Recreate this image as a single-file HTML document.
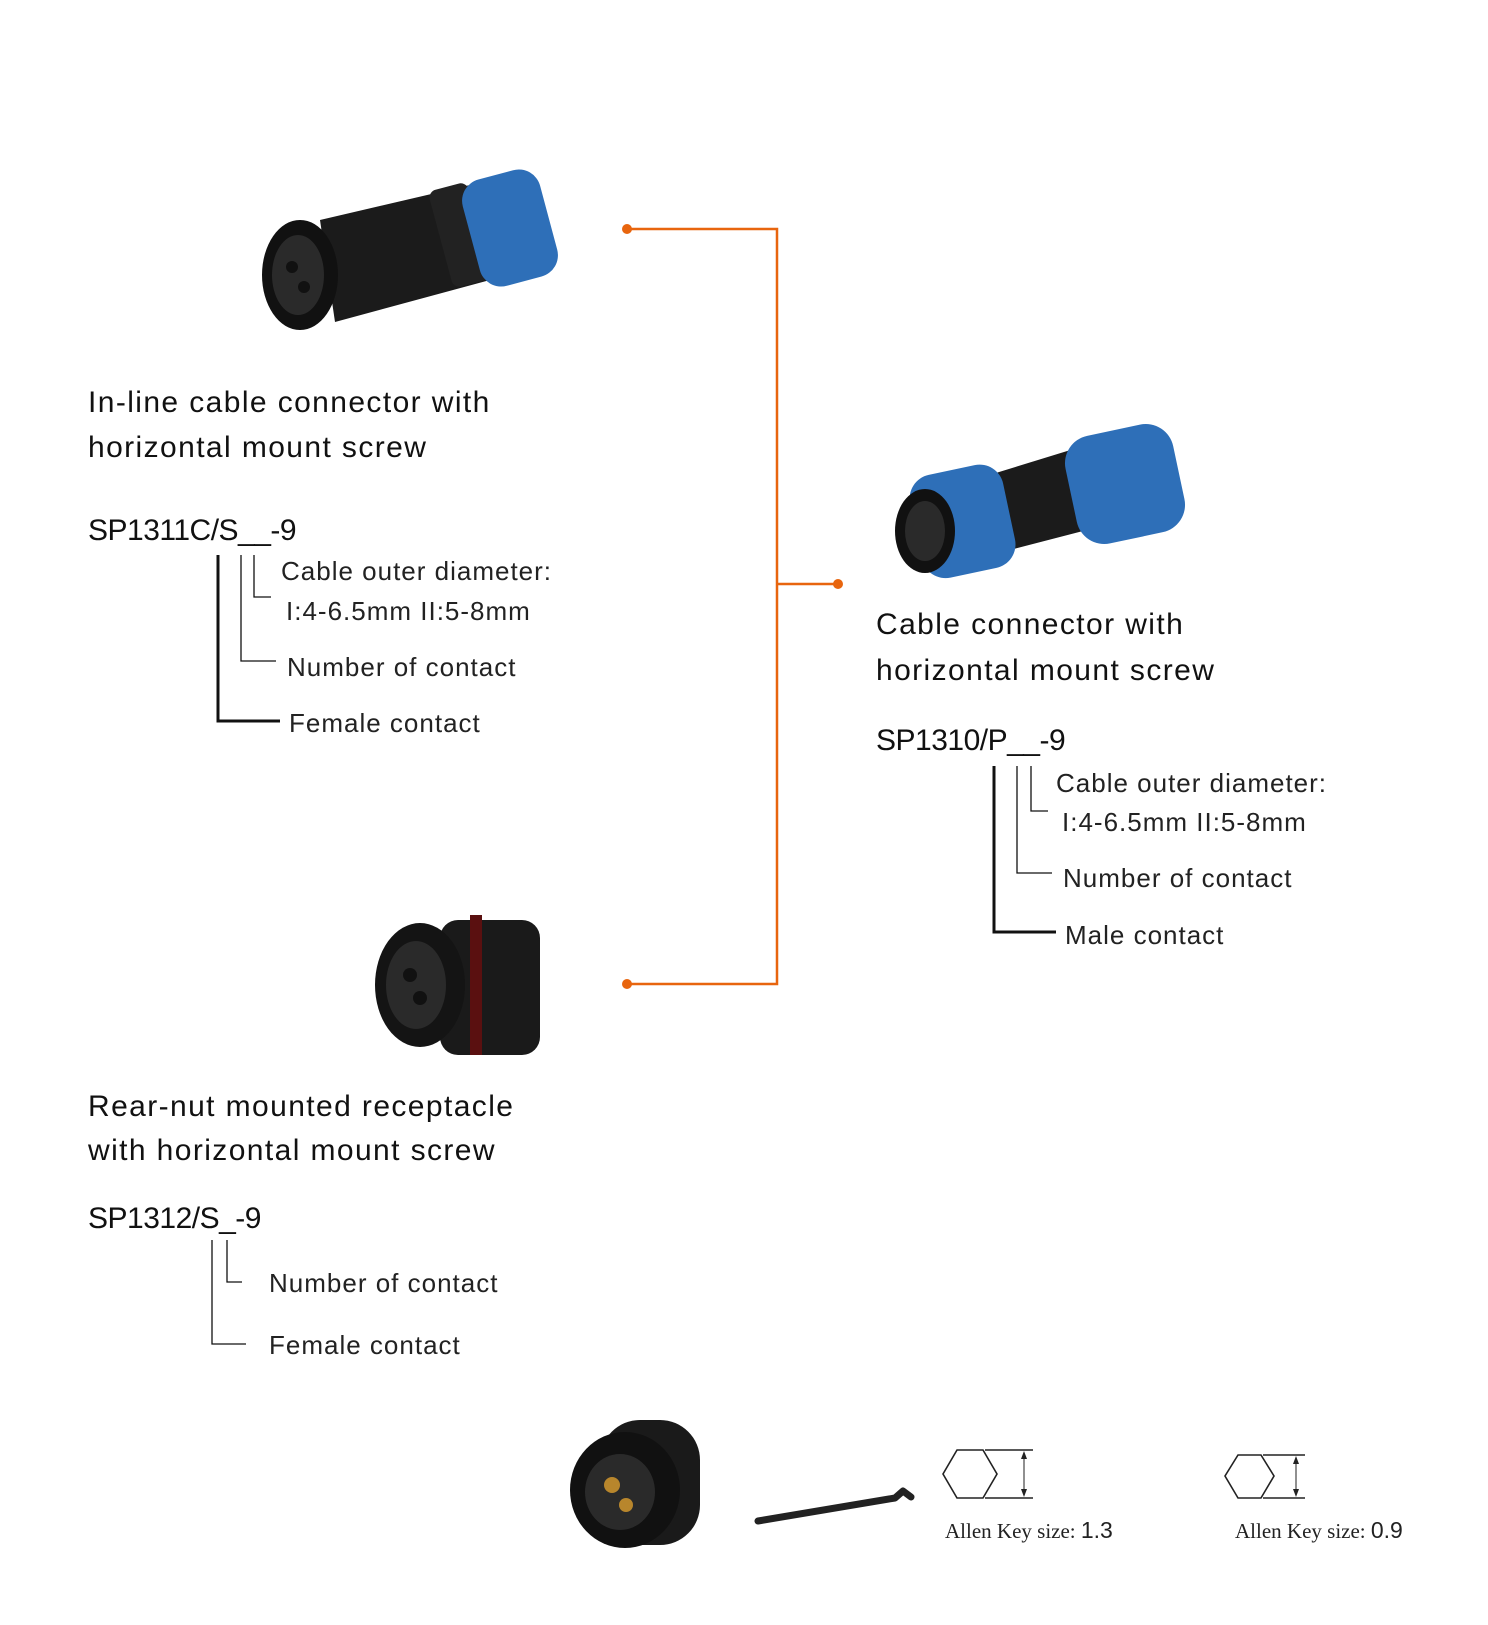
<!DOCTYPE html>
<html><head><meta charset="utf-8"><style>
html,body{margin:0;padding:0;background:#fff}
svg{display:block}
.h{font-family:"Liberation Sans",sans-serif;font-size:30px;fill:#111;letter-spacing:1.4px}
.p{font-family:"Liberation Sans",sans-serif;font-size:30px;fill:#111;letter-spacing:-0.5px}
.l{font-family:"Liberation Sans",sans-serif;font-size:26px;fill:#222;letter-spacing:1px}
.s{font-family:"Liberation Serif",serif;font-size:21px;fill:#222}
</style></head><body>
<svg width="1488" height="1625" viewBox="0 0 1488 1625" xmlns="http://www.w3.org/2000/svg">
<g stroke="#e8650e" stroke-width="2.5" fill="none">
<polyline points="627,229 777,229 777,984 627,984"/>
<line x1="777" y1="584" x2="838" y2="584"/>
</g>
<g fill="#e8650e"><circle cx="627" cy="229" r="5"/><circle cx="627" cy="984" r="5"/><circle cx="838" cy="584" r="5"/></g>

<g>
<polygon points="320,220 470,185 490,280 335,322" fill="#1b1b1b"/>
<rect x="440" y="185" width="40" height="100" rx="8" fill="#222" transform="rotate(-15 460 235)"/>
<rect x="470" y="173" width="80" height="110" rx="22" fill="#2e6fb8" transform="rotate(-15 510 228)"/>
<ellipse cx="300" cy="275" rx="38" ry="55" fill="#111"/>
<ellipse cx="298" cy="275" rx="26" ry="40" fill="#2a2a2a"/>
<circle cx="292" cy="267" r="6" fill="#111"/><circle cx="304" cy="287" r="6" fill="#111"/>
</g>

<g>
<polygon points="960,484 1090,444 1110,524 975,559" fill="#1b1b1b"/>
<rect x="1070" y="429" width="110" height="110" rx="28" fill="#2e6fb8" transform="rotate(-12 1125 484)"/>
<rect x="915" y="469" width="95" height="105" rx="24" fill="#2e6fb8" transform="rotate(-12 962 521)"/>
<ellipse cx="925" cy="531" rx="30" ry="42" fill="#111"/>
<ellipse cx="925" cy="531" rx="20" ry="30" fill="#2a2a2a"/>
</g>

<g>
<rect x="440" y="920" width="100" height="135" rx="18" fill="#1a1a1a"/>
<rect x="470" y="915" width="12" height="140" fill="#5a1010"/>
<ellipse cx="420" cy="985" rx="45" ry="62" fill="#141414"/>
<ellipse cx="416" cy="985" rx="30" ry="44" fill="#2a2a2a"/>
<circle cx="410" cy="975" r="7" fill="#111"/><circle cx="420" cy="998" r="7" fill="#111"/>
</g>

<g>
<rect x="600" y="1420" width="100" height="125" rx="40" fill="#1a1a1a"/>
<ellipse cx="625" cy="1490" rx="55" ry="58" fill="#111"/>
<ellipse cx="620" cy="1492" rx="35" ry="38" fill="#2a2a2a"/>
<circle cx="612" cy="1485" r="8" fill="#b8862c"/><circle cx="626" cy="1505" r="7" fill="#b8862c"/>
</g>
<path d="M758,1521 L895,1498 L903,1491 L911,1497" stroke="#222" stroke-width="7" fill="none" stroke-linecap="round" stroke-linejoin="round"/>

<g stroke="#222" stroke-width="1.6" fill="none">
<polygon points="957,1450 983,1450 997,1474 983,1498 957,1498 943,1474"/>
<line x1="985" y1="1450" x2="1033" y2="1450"/><line x1="985" y1="1498" x2="1033" y2="1498"/>
<line x1="1024" y1="1453" x2="1024" y2="1495" stroke-width="1"/>
<polygon points="1238,1455 1261,1455 1274,1476 1261,1498 1238,1498 1225,1476"/>
<line x1="1263" y1="1455" x2="1305" y2="1455"/><line x1="1263" y1="1498" x2="1305" y2="1498"/>
<line x1="1296" y1="1458" x2="1296" y2="1495" stroke-width="1"/>
</g>
<g fill="#222"><polygon points="1024,1451 1021,1459 1027,1459"/><polygon points="1024,1497 1021,1489 1027,1489"/>
<polygon points="1296,1456 1293,1464 1299,1464"/><polygon points="1296,1497 1293,1489 1299,1489"/></g>
<text class="s" x="945" y="1538">Allen Key size: <tspan font-family="Liberation Sans" font-size="23">1.3</tspan></text>
<text class="s" x="1235" y="1538">Allen Key size: <tspan font-family="Liberation Sans" font-size="23">0.9</tspan></text>

<text class="h" x="88" y="412">In-line cable connector with</text>
<text class="h" x="88" y="457">horizontal mount screw</text>
<text class="p" x="88" y="540">SP1311C/S__-9</text>
<g fill="none" stroke="#111">
<polyline points="218,555 218,721 280,721" stroke-width="3"/>
<polyline points="241,555 241,661 276,661" stroke-width="1.3"/>
<polyline points="254,555 254,597 271,597" stroke-width="1.3"/>
</g>
<text class="l" x="281" y="580">Cable outer diameter:</text>
<text class="l" x="286" y="620">I:4-6.5mm II:5-8mm</text>
<text class="l" x="287" y="676">Number of contact</text>
<text class="l" x="289" y="732">Female contact</text>

<text class="h" x="876" y="634">Cable connector with</text>
<text class="h" x="876" y="680">horizontal mount screw</text>
<text class="p" x="876" y="750">SP1310/P__-9</text>
<g fill="none" stroke="#111">
<polyline points="994,766 994,932 1056,932" stroke-width="3"/>
<polyline points="1017,766 1017,873 1052,873" stroke-width="1.3"/>
<polyline points="1031,766 1031,811 1048,811" stroke-width="1.3"/>
</g>
<text class="l" x="1056" y="792">Cable outer diameter:</text>
<text class="l" x="1062" y="831">I:4-6.5mm II:5-8mm</text>
<text class="l" x="1063" y="887">Number of contact</text>
<text class="l" x="1065" y="944">Male contact</text>

<text class="h" x="88" y="1116">Rear-nut mounted receptacle</text>
<text class="h" x="88" y="1160">with horizontal mount screw</text>
<text class="p" x="88" y="1228">SP1312/S_-9</text>
<g fill="none" stroke="#111" stroke-width="1.3">
<polyline points="212,1240 212,1344 246,1344"/>
<polyline points="227,1240 227,1282 242,1282"/>
</g>
<text class="l" x="269" y="1292">Number of contact</text>
<text class="l" x="269" y="1354">Female contact</text>
</svg>
</body></html>
